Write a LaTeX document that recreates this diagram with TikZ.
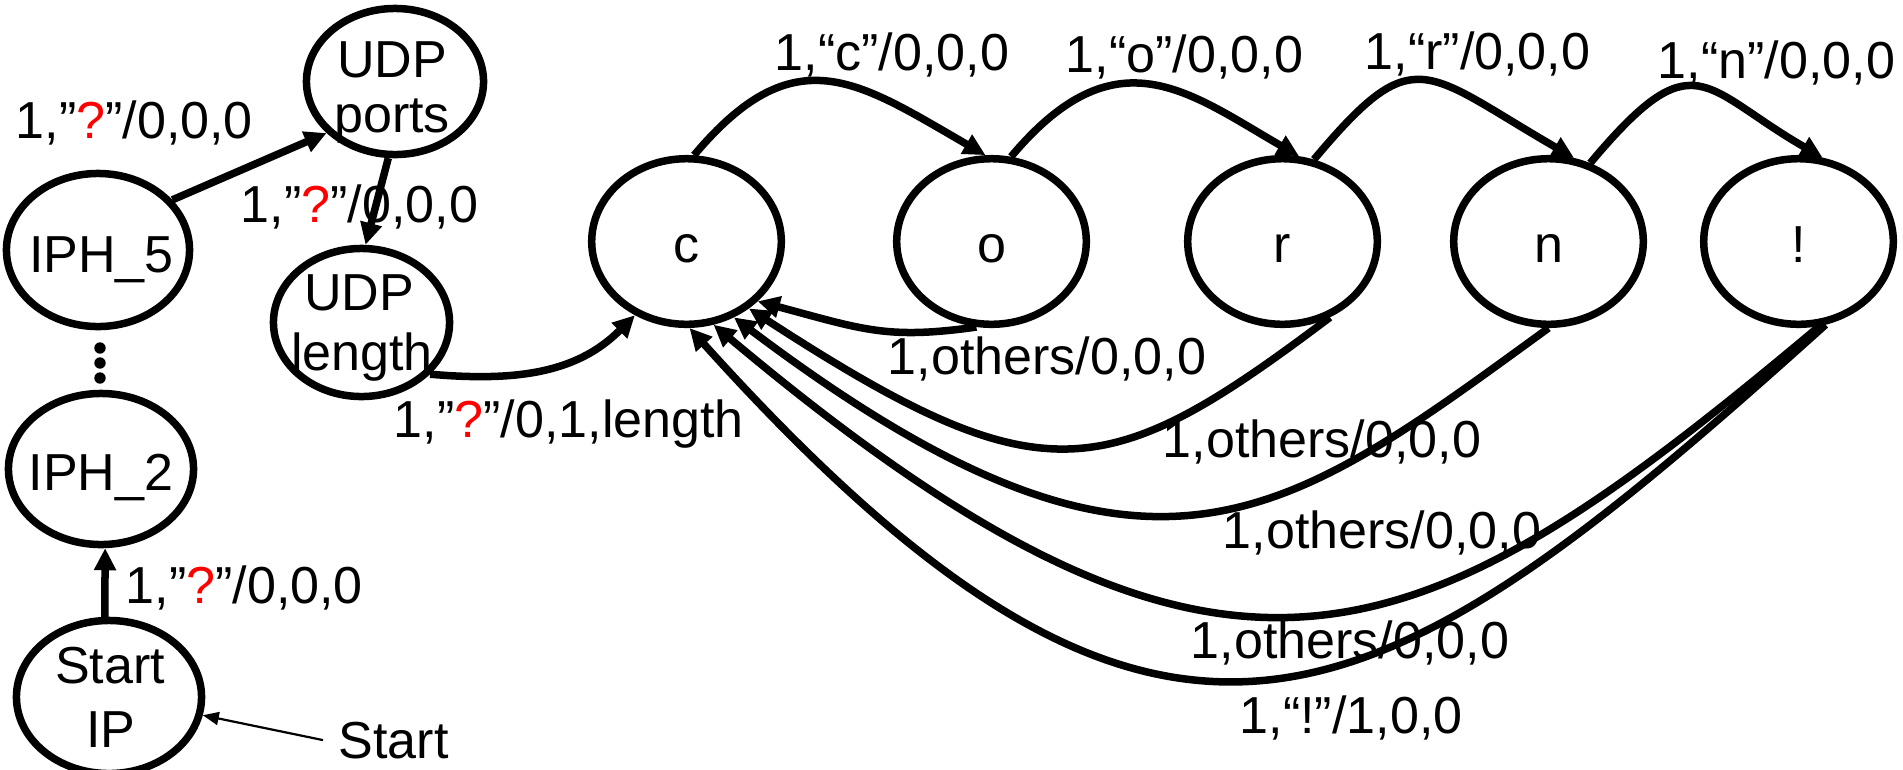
\documentclass[tikz,border=0pt]{standalone}
\usepackage{fontspec}
\setmainfont{Liberation Sans}
\usetikzlibrary{arrows.meta,shapes.geometric}
\newcommand{\redq}{\textcolor{red}{?}}
\begin{document}
\begin{tikzpicture}[x=0.01cm,y=0.01cm,
  font=\fontsize{14.8pt}{17pt}\selectfont,
  stell/.style={draw, ellipse, line width=0.075cm, inner sep=0pt, outer sep=0.0375cm},
  rowell/.style={stell, minimum width=1.895cm, minimum height=1.655cm},
  txt/.style={inner sep=0pt, anchor=base},
  lbl/.style={inner sep=0pt, anchor=base west},
  conn/.style={line width=0.075cm, -{Triangle[length=0.22cm,width=0.21cm]}},
  thinconn/.style={line width=0.022cm, -{Triangle[length=0.16cm,width=0.13cm]}}]

\useasboundingbox (0,0) rectangle (1903,-769);
\fill[white] (0,0) rectangle (1903,-769);

% left column of states
\node[stell, minimum width=1.83cm, minimum height=1.53cm] (iph5) at (98,-250) {};
\node[stell, minimum width=1.77cm, minimum height=1.46cm] (ports) at (395,-81.5) {};
\node[stell, minimum width=1.76cm, minimum height=1.48cm] (len) at (361.5,-322.5) {};
\node[stell, minimum width=1.85cm, minimum height=1.51cm] (iph2) at (101,-469) {};
\node[stell, minimum width=1.85cm, minimum height=1.53cm] (sip) at (109,-697) {};

\node[txt] (iph5-t) at (101.5,-272) {IPH\_5};
\node[txt] (ports-t1) at (392,-77) {UDP};
\node[txt] (ports-t2) at (392,-132) {ports};
\node[txt] (len-t1) at (359,-310) {UDP};
\node[txt] (len-t2) at (362,-370) {length};
\node[txt] (iph2-t) at (101,-490) {IPH\_2};
\node[txt] (sip-t1) at (110,-683) {Start};
\node[txt] (sip-t2) at (111,-747) {IP};

% vertical ellipsis between IPH_5 and IPH_2
\fill (100,-348) circle (0.057cm);
\fill (100,-363) circle (0.057cm);
\fill (100,-378) circle (0.057cm);

% row of character states
\node[rowell] (c) at (686.5,-241.5) {};
\node[rowell] (o) at (991.5,-241.5) {};
\node[rowell] (r) at (1282.5,-241.5) {};
\node[rowell] (n) at (1548.5,-241.5) {};
\node[rowell] (ex) at (1798.5,-241.5) {};

\node[txt] (c-t) at (686.5,-262) {c};
\node[txt] (o-t) at (991.5,-262) {o};
\node[txt] (r-t) at (1282.5,-262) {r};
\node[txt] (n-t) at (1548.5,-262) {n};
\node[txt] (ex-t) at (1798.5,-262) {!};

% start marker
\node[lbl, inner xsep=0.15cm] (start) at (323,-758) {Start};
\draw[thinconn] (start.west) -- (sip.-11);

% header transitions
\draw[conn] (sip.93) -- (iph2.-87);
\draw[conn] (iph5.34) -- (ports.-143);
\draw[conn] (ports.-95) -- (len.87);
\draw[conn] (len.-37) .. controls +(-5:90) and +(-135:80) .. (c.-125);

% matching transitions
\draw[conn] (c.85) .. controls +(50:157) and +(150:148) .. (o.94);
\draw[conn] (o.77) .. controls +(50:163) and +(150:129) .. (r.79);
\draw[conn] (r.69) .. controls +(50:157) and +(150:175) .. (n.73);
\draw[conn] (n.62) .. controls +(50:163) and +(150:140) .. (ex.74);

% fall-back transitions
\draw[conn] (o.-100) .. controls +(188:90) and +(-15:110) .. (c.-40);
\draw[conn] (r.-58) .. controls +(-143:280) and +(-33:350) .. (c.-47);
\draw[conn] (n.-90) .. controls +(-144:330) and +(-37:520) .. (c.-58);
\draw[conn] (ex.-76) .. controls +(-140:528) and +(-40:672) .. (c.-72);
\draw[conn] (ex.-72) .. controls +(-138:604) and +(-48:717) .. (c.-88);

% transition labels
\node[lbl] (l1) at (15,-138) {1,”\redq”/0,0,0};
\node[lbl] (l2) at (240,-222) {1,”\redq”/0,0,0};
\node[lbl] (l3) at (393,-437) {1,”\redq”/0,1,length};
\node[lbl] (l4) at (125,-603) {1,”\redq”/0,0,0};
\node[lbl] (lc) at (774,-70) {1,“c”/0,0,0};
\node[lbl] (lo) at (1065,-72) {1,“o”/0,0,0};
\node[lbl] (lr) at (1364,-69) {1,“r”/0,0,0};
\node[lbl] (ln) at (1657,-78) {1,“n”/0,0,0};
\node[lbl] (lo2) at (887,-374) {1,others/0,0,0};
\node[lbl] (lr2) at (1162,-457) {1,others/0,0,0};
\node[lbl] (ln2) at (1222,-548) {1,others/0,0,0};
\node[lbl] (lx2) at (1190,-658) {1,others/0,0,0};
\node[lbl] (lx) at (1239,-733) {1,“!”/1,0,0};
\end{tikzpicture}
\end{document}
